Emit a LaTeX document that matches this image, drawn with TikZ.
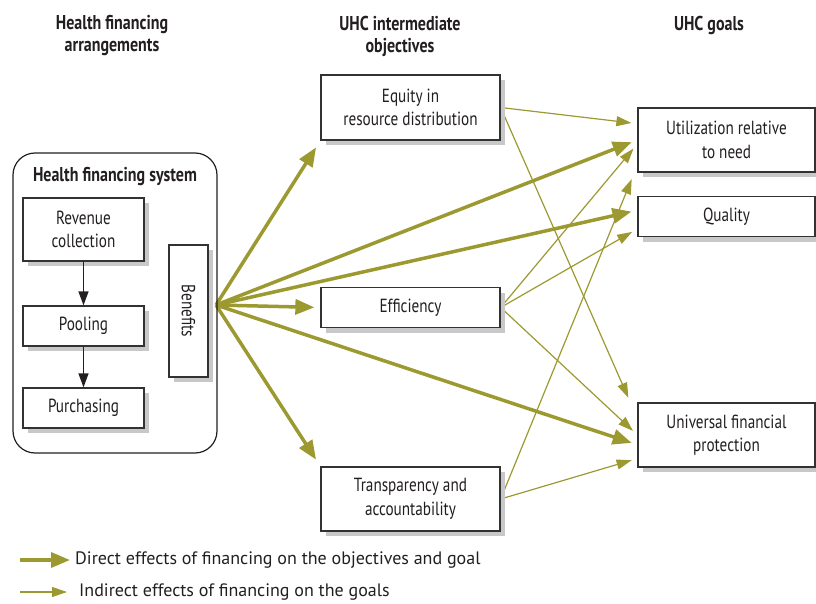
\documentclass[tikz,border=0pt]{standalone}
\usepackage{fontspec}
\usepackage{graphicx}
\setmainfont{PT Sans}
\newfontfamily\cnd{PT Sans}[FakeStretch=0.8]
\usetikzlibrary{arrows.meta,shadows,calc}
\definecolor{olive}{RGB}{156,153,48}
\definecolor{ink}{RGB}{35,31,32}
\definecolor{shade}{RGB}{200,200,202}
\definecolor{edge}{RGB}{50,50,50}
\pgfdeclarelayer{bg}
\pgfsetlayers{bg,main}
\tikzset{
 box/.style={draw=edge, line width=1.3pt, fill=white, align=center, text=ink,
   font=\cnd\fontsize{19}{23.5}\selectfont, inner sep=2pt,
   drop shadow={shadow xshift=5pt, shadow yshift=-5pt, fill=shade, opacity=1}},
 hdr/.style={align=center, text=ink, font=\cnd\bfseries\fontsize{20}{22}\selectfont},
 direct/.style={olive, line width=3.5pt, -{Triangle[length=19pt,width=15pt]}},
 indirect/.style={olive, line width=1.2pt, -{Triangle[length=15pt,width=10pt]}},
 flow/.style={ink, line width=1.3pt, -{Triangle[length=14pt,width=10pt]}},
 legtext/.style={anchor=west, inner sep=0pt, text=ink, font=\fontsize{18}{20}\selectfont},
}
\begin{document}
\begin{tikzpicture}[x=1pt,y=-1pt]
\useasboundingbox (0,0) rectangle (816,604);
% headers
\node[hdr] (h1) at (112,36) {Health financing\\arrangements};
\node[hdr] (h2) at (400,36) {UHC intermediate\\objectives};
\node[hdr] (h3) at (709,25) {UHC goals};
% health financing system
\node[draw=ink, line width=1.2pt, rounded corners=22pt, minimum width=204pt, minimum height=300pt] (sys) at (115,303) {};
\node[hdr] (systitle) at (115,177) {Health financing system};
\node[box, minimum width=121pt, minimum height=63pt] (rev) at (83.5,229.5) {Revenue\\collection};
\node[box, minimum width=121pt, minimum height=40pt] (pool) at (83.5,326) {Pooling};
\node[box, minimum width=121pt, minimum height=40pt] (purch) at (83.5,408) {Purchasing};
\node[box, minimum width=39pt, minimum height=132pt] (ben) at (188.5,311) {\rotatebox{-90}{Benefits}};
\draw[flow] (rev) -- (pool);
\draw[flow] (pool) -- (purch);
% intermediate objectives
\node[box, minimum width=179pt, minimum height=65pt] (equity) at (410.5,107.5) {Equity in\\resource distribution};
\node[box, minimum width=179pt, minimum height=40pt] (eff) at (410.5,307.5) {Efficiency};
\node[box, minimum width=179pt, minimum height=64pt] (transp) at (410.5,499) {Transparency and\\accountability};
% goals
\node[box, minimum width=177pt, minimum height=64pt] (util) at (726.5,140) {Utilization relative\\to need};
\node[box, minimum width=177pt, minimum height=40pt] (qual) at (726.5,216.5) {Quality};
\node[box, minimum width=177pt, minimum height=64pt] (univ) at (726.5,435) {Universal financial\\protection};
\coordinate (O) at (216,305);
\begin{pgfonlayer}{bg}
% indirect effects
\draw[indirect, shorten >=6pt] (equity.east) -- ($(util.north west)!0.25!(util.south west)$);
\draw[indirect, shorten >=5pt] (equity.east) -- ($(univ.north west)+(-7,0)$);
\draw[indirect, shorten >=6pt] (eff.east) -- ($(util.north west)!0.56!(util.south west)$);
\draw[indirect, shorten >=6pt] (eff.east) -- ($(qual.north west)!0.8!(qual.south west)$);
\draw[indirect, shorten >=6pt] (eff.east) -- (univ.west);
\draw[indirect, shorten >=7pt] (transp.east) -- ($(util.south west)+(-3,0)$);
\draw[indirect, shorten >=6pt] (transp.east) -- ($(univ.north west)!0.86!(univ.south west)$);
% direct effects
\draw[direct, shorten >=8pt] (O) -- (equity.south west);
\draw[direct, shorten >=6pt] (O) -- (util.west);
\draw[direct, shorten >=6pt] (O) -- ($(qual.north west)!0.35!(qual.south west)$);
\draw[direct, shorten >=6pt] (O) -- (eff.west);
\draw[direct, shorten >=6pt] (O) -- ($(univ.north west)!0.65!(univ.south west)$);
\draw[direct, shorten >=8pt] (O) -- (transp.north west);
\end{pgfonlayer}
% legend
\node[legtext] (lg1) at (75,560) {Direct effects of financing on the objectives and goal};
\node[legtext] (lg2) at (79,592) {Indirect effects of financing on the goals};
\coordinate (lg1s) at (20,560);
\coordinate (lg2s) at (20,592);
\draw[direct, shorten >=5pt] (lg1s) -- (lg1.west);
\draw[indirect, shorten >=12pt] (lg2s) -- (lg2.west);
\end{tikzpicture}
\end{document}
